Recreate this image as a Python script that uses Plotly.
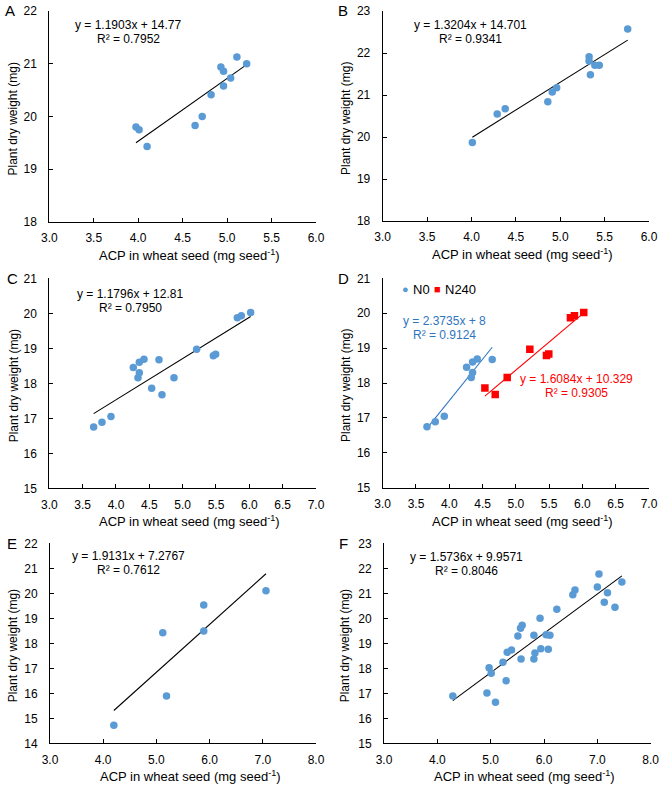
import numpy as np
import plotly.graph_objects as go

W, H = 660, 785
FONT = "Liberation Sans, Arial, sans-serif"
BLUE = "#5B9BD5"
BLUE_DARK = "#2E75C0"
RED = "#FF0000"

# ---------------- data ----------------
a_x = [3.975, 4.01, 4.10, 4.64, 4.72, 4.82, 4.93, 4.96, 4.96, 5.04, 5.11, 5.22]
a_y = [19.80, 19.75, 19.43, 19.83, 20.00, 20.41, 20.94, 20.86, 20.58, 20.73, 21.13, 21.00]

b_x = [4.01, 4.29, 4.38, 4.86, 4.91, 4.96, 5.325, 5.325, 5.34, 5.39, 5.44, 5.76]
b_y = [19.87, 20.55, 20.67, 20.84, 21.07, 21.17, 21.91, 21.81, 21.48, 21.71, 21.71, 22.57]

n0_x = [3.665, 3.79, 3.925, 4.26, 4.35, 4.42, 4.35, 4.33, 4.645]
n0_y = [16.75, 16.89, 17.05, 18.45, 18.60, 18.69, 18.30, 18.16, 18.67]
n240_x = [4.535, 4.69, 4.87, 5.21, 5.46, 5.495, 5.82, 5.88, 6.02]
n240_y = [17.86, 17.67, 18.16, 18.97, 18.79, 18.83, 19.87, 19.93, 20.02]

e_x = [4.20, 5.12, 5.19, 5.89, 5.89, 7.06]
e_y = [14.72, 18.42, 15.89, 19.53, 18.49, 20.10]

f_x = [4.29, 4.93, 5.09, 4.97, 5.01, 5.23, 5.29, 5.31, 5.39, 5.51, 5.56, 5.59, 5.57,
       5.81, 5.81, 5.83, 5.925, 5.94, 6.04, 6.08, 6.11, 6.24, 6.54, 6.58, 7.00, 7.03,
       7.19, 7.13, 7.33, 7.46]
f_y = [16.89, 17.01, 16.64, 18.02, 17.80, 18.24, 17.50, 18.64, 18.73, 19.29, 19.60, 19.72, 18.37,
       19.32, 18.37, 18.61, 20.00, 18.78, 19.34, 18.76, 19.32, 20.36, 20.94, 21.13, 21.25, 21.77,
       21.02, 20.64, 20.44, 21.45]

# trendline coefficients (slope, intercept) and labels
fit_a = (1.1903, 14.77)
fit_b = (1.3204, 14.701)
fit_c = (1.1796, 12.81)
fit_n0 = (2.3735, 8.0)
fit_n240 = (1.6084, 10.329)
fit_e = (1.9131, 7.2767)
fit_f = (1.5736, 9.9571)

eq_a = ["y = 1.1903x + 14.77", "R² = 0.7952"]
eq_b = ["y = 1.3204x + 14.701", "R² = 0.9341"]
eq_c = ["y = 1.1796x + 12.81", "R² = 0.7950"]
eq_n0 = ["y = 2.3735x + 8", "R² = 0.9124"]
eq_n240 = ["y = 1.6084x + 10.329", "R² = 0.9305"]
eq_e = ["y = 1.9131x + 7.2767", "R² = 0.7612"]
eq_f = ["y = 1.5736x + 9.9571", "R² = 0.8046"]

panel_letters = ["A", "B", "C", "D", "E", "F"]
x_title = "ACP in wheat seed (mg seed<sup>-1</sup>)"
y_title = "Plant dry weight (mg)"
legend_names = ["N0", "N240"]

# ---------------- layout geometry (pixels) ----------------
# (left, right, top, bottom) of each plot area
boxes = [
    (49.3, 316.0, 11.0, 222.0),
    (382.7, 649.0, 11.0, 221.0),
    (49.3, 316.0, 278.3, 488.3),
    (382.7, 649.0, 278.3, 487.7),
    (50.0, 316.0, 543.3, 743.3),
    (384.0, 650.7, 543.3, 743.3),
]
xranges = [[3, 6], [3, 6], [3, 7], [3, 7], [3, 8], [3, 8]]
yranges = [[18, 22], [18, 23], [15, 21], [15, 21], [14, 22], [15, 23]]
xdticks = [0.5, 0.5, 0.5, 0.5, 1, 1]


def px(x):
    return x / W


def py(y):
    return 1 - y / H


fig = go.Figure()


def add_scatter(i, xs, ys, color, symbol="circle"):
    fig.add_trace(go.Scatter(
        x=xs, y=ys, mode="markers",
        marker=dict(color=color, size=7.5, symbol=symbol, line=dict(width=0)),
        xaxis=f"x{i+1}", yaxis=f"y{i+1}", showlegend=False, hoverinfo="x+y"))


def add_fit(i, xs, fit, color):
    lx = np.array([min(xs), max(xs)])
    ly = fit[0] * lx + fit[1]
    fig.add_trace(go.Scatter(
        x=lx, y=ly, mode="lines", line=dict(color=color, width=1.1),
        xaxis=f"x{i+1}", yaxis=f"y{i+1}", showlegend=False, hoverinfo="skip"))


# A
add_fit(0, a_x, fit_a, "black")
add_scatter(0, a_x, a_y, BLUE)
# B
add_fit(1, b_x, fit_b, "black")
add_scatter(1, b_x, b_y, BLUE)
# C (combined)
c_x = n0_x + n240_x
c_y = n0_y + n240_y
add_fit(2, c_x, fit_c, "black")
add_scatter(2, c_x, c_y, BLUE)
# D
add_fit(3, n0_x, fit_n0, BLUE_DARK)
add_fit(3, n240_x, fit_n240, RED)
add_scatter(3, n0_x, n0_y, BLUE)
add_scatter(3, n240_x, n240_y, RED, symbol="square")
# E
add_fit(4, e_x, fit_e, "black")
add_scatter(4, e_x, e_y, BLUE)
# F
add_fit(5, f_x, fit_f, "black")
add_scatter(5, f_x, f_y, BLUE)

layout = dict(
    width=W, height=H,
    margin=dict(l=0, r=0, t=0, b=0, autoexpand=False),
    paper_bgcolor="white", plot_bgcolor="white",
    font=dict(family=FONT, size=12, color="black"),
    showlegend=False,
)

axis_common = dict(
    showgrid=False, zeroline=False, showline=True, linecolor="black", linewidth=1,
    ticks="inside", ticklen=4, tickwidth=1, tickcolor="black", automargin=False,
    tickfont=dict(family=FONT, size=12, color="black"),
)

for i, (l, r, t, b) in enumerate(boxes):
    n = i + 1
    layout[f"xaxis{n}"] = dict(
        axis_common, domain=[px(l), px(r)], range=xranges[i], anchor=f"y{n}",
        tick0=3, dtick=xdticks[i], tickformat=".1f", ticklabelstandoff=5)
    layout[f"yaxis{n}"] = dict(
        axis_common, domain=[py(b), py(t)], range=yranges[i], anchor=f"x{n}",
        dtick=1, ticklabelstandoff=9)

fig.update_layout(**layout)

ann = []


def text(x, y, s, size=12, color="black", angle=0, xanchor="center"):
    ann.append(dict(x=px(x), y=py(y), xref="paper", yref="paper", text=s,
                    showarrow=False, textangle=angle, xanchor=xanchor, yanchor="middle",
                    font=dict(family=FONT, size=size, color=color)))


# panel letters
letter_pos = [(10, 11), (343, 11), (12, 278.3), (343, 278.3), (12, 543.3), (343, 543.3)]
for s, (x, y) in zip(panel_letters, letter_pos):
    text(x, y, s, size=15)

# axis titles
ytitle_x = [13, 346, 14, 346, 13, 345]
for i, (l, r, t, b) in enumerate(boxes):
    text((l + r) / 2 + 7, b + 33, x_title, size=13)
    text(ytitle_x[i], (t + b) / 2 + 3, y_title, size=12, angle=-90)

# equations
eqs = [
    (eq_a, 128, 25, "black"),
    (eq_b, 470, 25, "black"),
    (eq_c, 130, 294.3, "black"),
    (eq_n0, 445, 320.7, BLUE_DARK),
    (eq_n240, 576, 379, RED),
    (eq_e, 128.3, 555.7, "black"),
    (eq_f, 466, 556.7, "black"),
]
for lines, x, y, col in eqs:
    text(x, y, lines[0], size=12, color=col)
    text(x, y + 14, lines[1], size=12, color=col)

# legend of panel D
text(405.3, 289.3, "●", size=11, color=BLUE)
text(411, 289.3, legend_names[0], size=13, xanchor="left")
text(437.3, 289.3, "■", size=11, color=RED)
text(443, 289.3, legend_names[1], size=13, xanchor="left")

fig.update_layout(annotations=ann)
fig.write_html(
    "out.html",
    config={"displayModeBar": False},
    post_script="document.body.style.margin='0';document.body.style.overflow='hidden';",
)
